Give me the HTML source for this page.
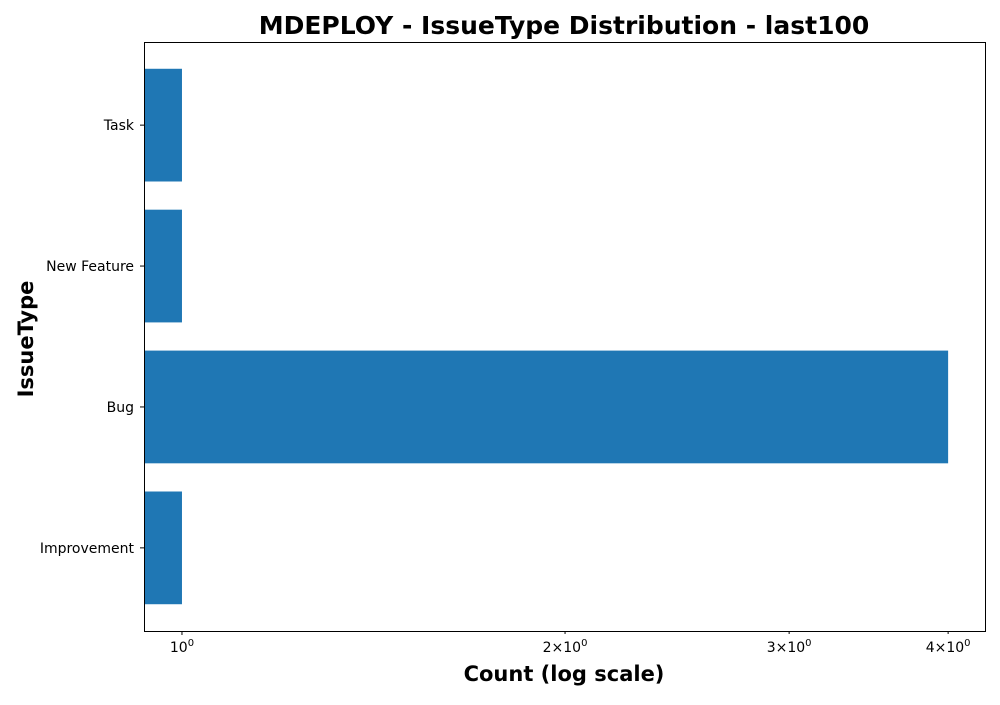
<!DOCTYPE html>
<html><head><meta charset="utf-8"><style>
body{margin:0;background:#fff}
svg text{font-family:"DejaVu Sans","Liberation Sans",sans-serif}
</style></head><body>
<svg id="chart" width="1000" height="700" xmlns="http://www.w3.org/2000/svg">
<text x="564" y="34" text-anchor="middle" font-size="25" font-weight="bold">MDEPLOY - IssueType Distribution - last100</text>
<text x="564" y="681" text-anchor="middle" font-size="21" font-weight="bold">Count (log scale)</text>
<text transform="translate(33,339) rotate(-90)" text-anchor="middle" font-size="21" font-weight="bold">IssueType</text>
<g id="bars"></g>
<g id="ticks"></g>
<rect x="144.5" y="42.5" width="841" height="589" fill="none" stroke="#000" stroke-width="1"/>
</svg>
<script>
const categories = ["Improvement","Bug","New Feature","Task"];
const counts = [1,4,1,1];
const xTicks = [1,2,3,4];
const xTickMant = ["","2","3","4"];
const L=144,R=985,T=42,B=631,xmin=0.9336,xmax=4.276;
const ns="http://www.w3.org/2000/svg";
function x(v){return L+(Math.log10(v)-Math.log10(xmin))/(Math.log10(xmax)-Math.log10(xmin))*(R-L);}
const n=categories.length;
const step=(B-T)/(n-1+0.8+2*0.19);
function yc(i){return B-step*(0.59+i);}
const bars=document.getElementById('bars'),ticks=document.getElementById('ticks');
function mk(t,a,p){const e=document.createElementNS(ns,t);for(const k in a)e.setAttribute(k,a[k]);p.appendChild(e);return e;}
categories.forEach((c,i)=>{
  const h=step*0.8;
  const r=mk('rect',{x:L,y:yc(i)-h/2,width:x(counts[i])-L,height:h,fill:'#1f77b4'},bars);
  
  
  const tl=mk('line',{x1:L-4,x2:L,y1:yc(i),y2:yc(i),stroke:'#000'},ticks);
  
  
  const t=mk('text',{x:L-10,y:yc(i)+5,'text-anchor':'end','font-size':14},ticks);
  t.textContent=c;
  
  
});
xTicks.forEach((v,i)=>{
  const px=x(v);
  const tl=mk('line',{x1:px,x2:px,y1:B,y2:B+(i==0?4:3),stroke:'#000'},ticks);
  
  
  const t=mk('text',{x:px,y:B+21,'text-anchor':'middle','font-size':14},ticks);
  t.innerHTML=(xTickMant[i]?xTickMant[i]+'\u00d7':'')+'10<tspan dy="-6" font-size="10">0</tspan>';
  
  
});
</script>
</body></html>
